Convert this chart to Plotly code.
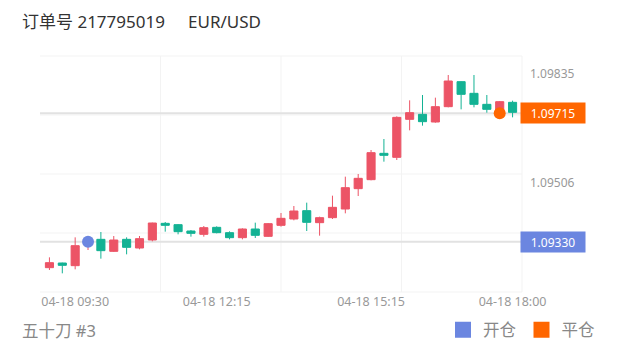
import plotly.graph_objects as go

# ---- data ----
times = ["09:00", "09:15", "09:30", "09:45", "10:00", "10:15", "10:30", "10:45",
         "11:00", "11:15", "11:30", "11:45", "12:00", "12:15", "12:30", "12:45",
         "13:00", "13:15", "13:30", "13:45", "14:00", "14:15", "14:30", "14:45",
         "15:00", "15:15", "15:30", "15:45", "16:00", "16:15", "16:30", "16:45",
         "17:00", "17:15", "17:30", "17:45", "18:00"]
opens = [1.09252, 1.09266, 1.09258, 1.09320, 1.09337, 1.09301, 1.09337, 1.09311,
         1.09335, 1.09385, 1.09381, 1.09362, 1.09352, 1.09373, 1.09357, 1.09342,
         1.09368, 1.09346, 1.09379, 1.09398, 1.09423, 1.09387, 1.09402, 1.09428,
         1.09489, 1.09516, 1.09595, 1.09583, 1.09697, 1.09712, 1.09689, 1.09735,
         1.09810, 1.09775, 1.09742, 1.09707, 1.09748]
highs = [1.09283, 1.09267, 1.09343, 1.09340, 1.09359, 1.09347, 1.09343, 1.09347,
         1.09387, 1.09389, 1.09383, 1.09365, 1.09377, 1.09376, 1.09361, 1.09370,
         1.09387, 1.09386, 1.09416, 1.09437, 1.09447, 1.09405, 1.09468, 1.09525,
         1.09533, 1.09605, 1.09638, 1.09706, 1.09754, 1.09770, 1.09762, 1.09830,
         1.09811, 1.09830, 1.09770, 1.09752, 1.09753]
lows = [1.09245, 1.09235, 1.09247, 1.09305, 1.09279, 1.09299, 1.09292, 1.09307,
        1.09331, 1.09360, 1.09352, 1.09345, 1.09345, 1.09355, 1.09337, 1.09337,
        1.09341, 1.09344, 1.09375, 1.09394, 1.09362, 1.09348, 1.09398, 1.09415,
        1.09467, 1.09514, 1.09570, 1.09575, 1.09664, 1.09678, 1.09687, 1.09733,
        1.09727, 1.09733, 1.09717, 1.09698, 1.09703]
closes = [1.09267, 1.09259, 1.09318, 1.09330, 1.09303, 1.09335, 1.09313, 1.09339,
          1.09386, 1.09379, 1.09360, 1.09355, 1.09372, 1.09357, 1.09342, 1.09368,
          1.09349, 1.09384, 1.09400, 1.09422, 1.09388, 1.09402, 1.09433, 1.09492,
          1.09520, 1.09597, 1.09589, 1.09703, 1.09717, 1.09690, 1.09735, 1.09812,
          1.09772, 1.09742, 1.09727, 1.09750, 1.09718]

day = "2024-04-18"
date_label = "04-18"
tick_times = ["09:30", "12:15", "15:15", "18:00"]
y_tick_values = [1.09835, 1.09506]
y_range = [1.09179, 1.09887]
x_range_times = ["08:49", "18:11"]

open_time, open_price = "09:45", 1.09330
close_time, close_price = "17:45", 1.09715

order_no = "订单号 217795019"
symbol_name = "EUR/USD"
account = "五十刀 #3"
open_name, close_name = "开仓", "平仓"

# ---- style / layout ----
RED = "#ec5466"
GREEN = "#13b294"
BLUE = "#6b86e0"
ORANGE = "#ff6600"
FONT = "Noto Sans, Noto Sans CJK SC, sans-serif"
W, H = 620, 352
ML, MR, MT, MB = 40, 98, 56, 60
PW, PH = W - ML - MR, H - MT - MB


def px_x(px):
    return (px - ML) / PW


def px_y(py):
    return (H - MB - py) / PH


x_dt = [f"{day} {t}" for t in times]

fig = go.Figure()
fig.add_trace(go.Candlestick(
    x=x_dt, open=opens, high=highs, low=lows, close=closes,
    increasing=dict(line=dict(color=RED, width=1), fillcolor=RED),
    decreasing=dict(line=dict(color=GREEN, width=1), fillcolor=GREEN),
    whiskerwidth=0, showlegend=False, hoverinfo="skip",
))
fig.add_trace(go.Scatter(
    x=[f"{day} {open_time}"], y=[open_price], mode="markers",
    marker=dict(color=BLUE, size=12), showlegend=False, legendgroup="o",
))
fig.add_trace(go.Scatter(
    x=[f"{day} {close_time}"], y=[close_price], mode="markers",
    marker=dict(color=ORANGE, size=12), showlegend=False, legendgroup="c",
))
# legend entries
fig.add_trace(go.Scatter(x=[None], y=[None], mode="markers", name=open_name,
                         marker=dict(color=BLUE, size=17, symbol="square"), legendgroup="o"))
fig.add_trace(go.Scatter(x=[None], y=[None], mode="markers", name=close_name,
                         marker=dict(color=ORANGE, size=17, symbol="square"), legendgroup="c"))

shapes = []
for f in [0, 0.25, 0.5, 0.75, 1.0]:
    shapes.append(dict(type="line", xref="x domain", yref="y domain", x0=0, x1=1, y0=f, y1=f,
                       line=dict(color="#f3f3f3", width=1), layer="below"))
for f in [0.25, 0.5, 0.75, 1.0]:
    shapes.append(dict(type="line", xref="x domain", yref="y domain", x0=f, x1=f, y0=0, y1=1,
                       line=dict(color="#f3f3f3", width=1), layer="below"))
for p in [open_price, close_price]:
    shapes.append(dict(type="line", xref="x domain", yref="y", x0=0, x1=1, y0=p, y1=p,
                       line=dict(color="#e2e2e2", width=2), layer="below"))

annotations = [
    dict(xref="paper", yref="y", x=1, y=close_price, xanchor="left", yanchor="middle",
         text=f"{close_price:.5f}", showarrow=False, bgcolor=ORANGE, width=60, height=16,
         borderpad=2, xshift=-2, font=dict(family=FONT, size=12, color="white")),
    dict(xref="paper", yref="y", x=1, y=open_price, xanchor="left", yanchor="middle",
         text=f"{open_price:.5f}", showarrow=False, bgcolor=BLUE, width=60, height=16,
         borderpad=2, xshift=-2, font=dict(family=FONT, size=12, color="white")),
    dict(xref="paper", yref="paper", x=px_x(20), y=px_y(21.5), xanchor="left", yanchor="middle",
         text=order_no, showarrow=False, font=dict(family=FONT, size=17, color="#333333")),
    dict(xref="paper", yref="paper", x=px_x(186), y=px_y(21.5), xanchor="left", yanchor="middle",
         text=symbol_name, showarrow=False, font=dict(family=FONT, size=17, color="#333333")),
    dict(xref="paper", yref="paper", x=px_x(20), y=px_y(330), xanchor="left", yanchor="middle",
         text=account, showarrow=False, font=dict(family=FONT, size=16.5, color="#888888")),
]

fig.update_layout(
    width=W, height=H,
    margin=dict(l=ML, r=MR, t=MT, b=MB, autoexpand=False),
    paper_bgcolor="white", plot_bgcolor="white",
    font=dict(family=FONT),
    shapes=shapes, annotations=annotations,
    showlegend=True,
    boxgap=0.1,
    legend=dict(orientation="h", xref="container", yref="container",
                xanchor="right", x=600 / W, yanchor="middle", y=1 - 330 / H,
                font=dict(family=FONT, size=16.5, color="#888888"), bgcolor="rgba(0,0,0,0)",
                itemwidth=30, tracegroupgap=0),
    xaxis=dict(
        type="date",
        range=[f"{day} {x_range_times[0]}", f"{day} {x_range_times[1]}"],
        tickvals=[f"{day} {t}" for t in tick_times],
        ticktext=[f"{date_label} {t}" for t in tick_times],
        showgrid=False, zeroline=False, showline=False, ticks="",
        tickfont=dict(family=FONT, size=12.5, color="#999999"),
        rangeslider=dict(visible=False),
        fixedrange=True, automargin=False,
    ),
    yaxis=dict(
        side="right", range=y_range,
        tickvals=y_tick_values, ticktext=[f"{v:.5f}" for v in y_tick_values],
        showgrid=False, zeroline=False, showline=False, ticks="",
        ticklabelstandoff=7,
        tickfont=dict(family=FONT, size=12, color="#999999"),
        fixedrange=True, automargin=False,
    ),
)

fig.write_html("out.html")
